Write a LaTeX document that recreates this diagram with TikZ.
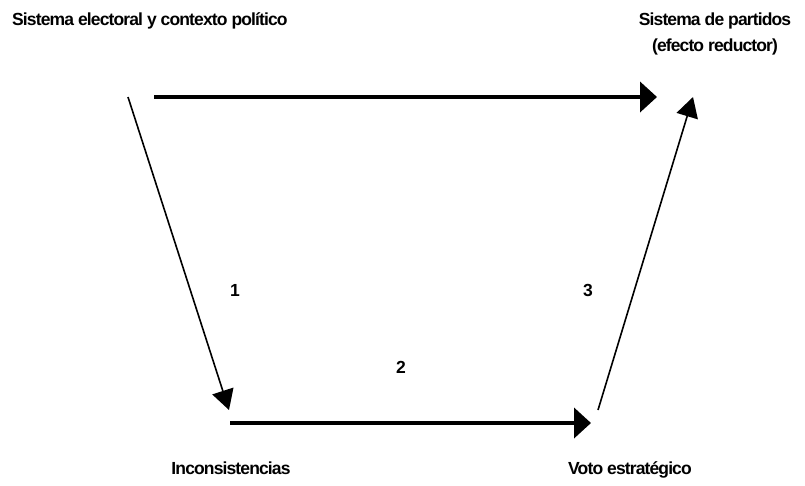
\documentclass[tikz,border=0pt]{standalone}
\usepackage{fontspec}
\setmainfont{Liberation Sans}
\newfontfamily\lblfont[LetterSpace=-5]{Liberation Sans}
\usetikzlibrary{arrows.meta}
\begin{document}
\begin{tikzpicture}[x=1pt,y=-1pt,
  lbl/.style={font=\lblfont\bfseries\fontsize{17.5}{27}\selectfont, inner sep=0pt},
  thick arr/.style={line width=4pt, -{Triangle[length=17pt,width=30pt]}},
  thin arr/.style={line width=1.6pt, -{Triangle[length=20pt,width=22pt]}}]
\useasboundingbox (0,0) rectangle (805,485);
\node[lbl, anchor=base west] (sec) at (12,25) {Sistema electoral y contexto político};
\node[lbl, anchor=base] (sp) at (715,25) {Sistema de partidos};
\node[lbl, anchor=base] (er) at (715,51) {(efecto reductor)};
\node[lbl, anchor=base] (inc) at (231,474) {Inconsistencias};
\node[lbl, anchor=base] (vot) at (630,474) {Voto estratégico};
\node[lbl] (n1) at (235,290) {1};
\node[lbl] (n2) at (401,367) {2};
\node[lbl] (n3) at (588,290) {3};
\coordinate (a1) at (154,97);
\coordinate (a2) at (657,97);
\coordinate (b1) at (128,97);
\coordinate (b2) at (229,410);
\coordinate (c1) at (230,423);
\coordinate (c2) at (591,423);
\coordinate (d1) at (598,410);
\coordinate (d2) at (693,97);
\draw[thick arr] (a1) -- (a2);
\draw[thin arr] (b1) -- (b2);
\draw[thick arr] (c1) -- (c2);
\draw[thin arr] (d1) -- (d2);
\end{tikzpicture}
\end{document}
